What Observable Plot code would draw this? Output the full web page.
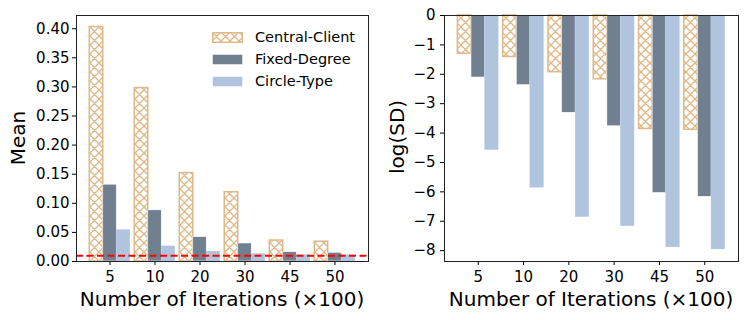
<!DOCTYPE html>
<html>
<head>
<meta charset="utf-8">
<script src="https://cdn.jsdelivr.net/npm/d3@7"></script>
<script src="https://cdn.jsdelivr.net/npm/@observablehq/plot@0.6"></script>
<style>
  html, body { margin: 0; padding: 0; background: #fff; }
  #wrap { position: relative; width: 747px; height: 320px; font-family: "DejaVu Sans", sans-serif; color: #000; overflow: hidden; }
  .panel { position: absolute; top: 0; }
  .lbl { position: absolute; font-size: 20px; white-space: nowrap; line-height: 1; }
  .legend { position: absolute; left: 212px; top: 26px; font-size: 14.5px; }
  .legend .row { display: flex; align-items: center; height: 22px; }
  .legend svg { margin-right: 12px; display: block; }
</style>
</head>
<body>
<svg width="0" height="0" style="position:absolute">
  <defs>
    <pattern id="hatch" patternUnits="userSpaceOnUse" width="9" height="9">
      <rect width="9" height="9" fill="#fff"></rect>
      <path d="M0,0L9,9M-1,8L1,10M8,-1L10,1M9,0L0,9M-1,1L1,-1M8,10L10,8" stroke="#deb887" stroke-width="1.3" fill="none"></path>
    </pattern>
  </defs>
</svg>
<div id="wrap"></div>
<script>
// ---- data ----
const iterations = ["5", "10", "20", "30", "45", "50"];
const seriesNames = ["Central-Client", "Fixed-Degree", "Circle-Type"];
const meanCentral = [0.403, 0.298, 0.152, 0.119, 0.036, 0.034];
const meanFixed   = [0.132, 0.088, 0.042, 0.031, 0.016, 0.015];
const meanCircle  = [0.054, 0.026, 0.017, 0.013, 0.011, 0.011];
const logsdCentral = [-1.30, -1.41, -1.93, -2.17, -3.86, -3.89];
const logsdFixed   = [-2.11, -2.37, -3.31, -3.77, -6.04, -6.17];
const logsdCircle  = [-4.58, -5.86, -6.86, -7.17, -7.89, -7.96];
const meanThreshold = [0.01];
const meanTicks = [0, 0.05, 0.10, 0.15, 0.20, 0.25, 0.30, 0.35, 0.40];
const logsdTicks = [-8, -7, -6, -5, -4, -3, -2, -1, 0];

// ---- styles ----
const colors = { "Central-Client": "url(#hatch)", "Fixed-Degree": "#708090", "Circle-Type": "#b0c4de" };
const strokes = { "Central-Client": "#deb887", "Fixed-Degree": "#ffffff", "Circle-Type": "#b0c4de" };
const strokeW = { "Central-Client": 1.5, "Fixed-Degree": 0.6, "Circle-Type": 0.3 };
const W = 0.3; // bar width in category units

function rows(values, s) {
  return values.map((v, i) => ({ i, s, v }));
}

function barMarks(seriesValues) {
  return seriesValues.map((vals, s) => {
    const name = seriesNames[s];
    return Plot.rect(rows(vals, s), {
      x1: d => d.i + (d.s - 1) * W - W / 2,
      x2: d => d.i + (d.s - 1) * W + W / 2,
      y1: 0,
      y2: d => d.v,
      fill: colors[name],
      stroke: strokes[name],
      strokeWidth: strokeW[name],
      inset: 0
    });
  });
}

const xScale = {
  type: "linear",
  domain: [-0.745, 5.745],
  ticks: d3.range(iterations.length),
  tickFormat: i => iterations[i],
  tickSize: 4,
  tickPadding: 6,
  label: null
};

const common = {
  height: 320,
  marginTop: 15,
  marginBottom: 59,
  style: { fontFamily: "DejaVu Sans, sans-serif", fontSize: "15px", color: "#000", background: "transparent" }
};

const left = Plot.plot({
  ...common,
  width: 380,
  marginLeft: 76,
  marginRight: 12,
  x: xScale,
  y: { domain: [0, 0.4227], ticks: meanTicks, tickFormat: d3.format(".2f"), tickSize: 4, tickPadding: 3, label: null },
  marks: [
    ...barMarks([meanCentral, meanFixed, meanCircle]),
    Plot.ruleY(meanThreshold, { stroke: "#ff0000", strokeWidth: 2, strokeDasharray: "7,3.5" }),
    Plot.frame({ stroke: "#222", strokeWidth: 1 })
  ]
});

const right = Plot.plot({
  ...common,
  width: 367,
  marginLeft: 64,
  marginRight: 9,
  x: xScale,
  y: { domain: [-8.37, 0], ticks: logsdTicks, tickFormat: d3.format("d"), tickSize: 4, tickPadding: 5, label: null },
  marks: [
    ...barMarks([logsdCentral, logsdFixed, logsdCircle]),
    Plot.frame({ stroke: "#222", strokeWidth: 1 })
  ]
});

const wrap = document.getElementById("wrap");
left.classList.add("panel"); left.style.left = "0px";
right.classList.add("panel"); right.style.left = "380px";
wrap.appendChild(left);
wrap.appendChild(right);

function addLabel(text, x, y, rotate) {
  const el = document.createElement("div");
  el.className = "lbl";
  el.textContent = text;
  el.style.left = x + "px";
  el.style.top = y + "px";
  el.style.transform = "translate(-50%, -50%)" + (rotate ? " rotate(-90deg)" : "");
  wrap.appendChild(el);
}
addLabel("Mean", 18, 138, true);
addLabel("log(SD)", 397, 137, true);
addLabel("Number of Iterations (×100)", 222, 299, false);
addLabel("Number of Iterations (×100)", 591, 299, false);

// legend
const legend = document.createElement("div");
legend.className = "legend";
seriesNames.forEach(name => {
  const row = document.createElement("div");
  row.className = "row";
  const sw = d3.create("svg").attr("width", 31).attr("height", 11);
  sw.append("rect").attr("x", 0.75).attr("y", 0.75).attr("width", 29.5).attr("height", 9.5)
    .attr("fill", colors[name]).attr("stroke", name === "Central-Client" ? strokes[name] : "none")
    .attr("stroke-width", 1.5);
  row.appendChild(sw.node());
  const t = document.createElement("span");
  t.textContent = name;
  row.appendChild(t);
  legend.appendChild(row);
});
wrap.appendChild(legend);
</script>
</body>
</html>
